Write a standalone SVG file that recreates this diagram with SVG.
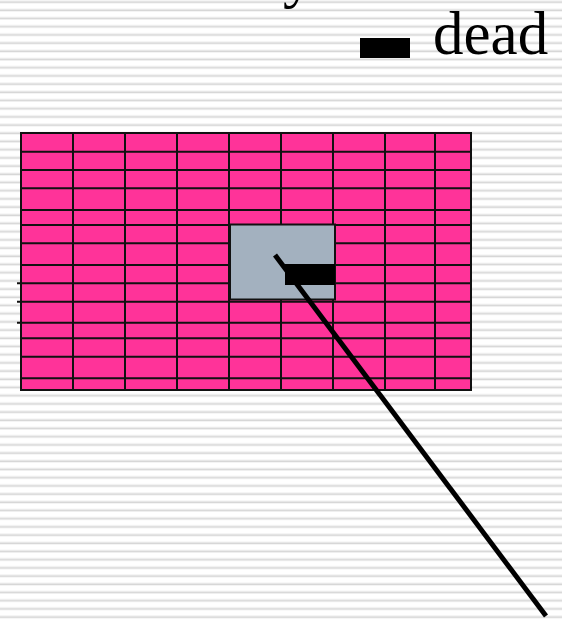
<svg xmlns="http://www.w3.org/2000/svg" width="562" height="620" viewBox="0 0 562 620">
  <defs>
    <pattern id="stripes" x="0" y="0" width="16" height="8.2" patternUnits="userSpaceOnUse">
      <rect x="0" y="0" width="16" height="8.2" fill="#ffffff"/>
      <rect x="0" y="0.6" width="16" height="1" fill="#e6e6e6"/>
      <rect x="0" y="1.6" width="16" height="1.4" fill="#d6d6d6"/>
    </pattern>
  </defs>
  <style>
    .grid line { stroke: #111111; stroke-width: 2; }
    .cell { fill: #ff3399; }
    .label { font-family: "Liberation Serif", "Times New Roman", serif; font-size: 61px; fill: #000000; }
    .conn { stroke: #000000; stroke-width: 5; fill: none; }
  </style>
  <rect x="0" y="0" width="562" height="620" fill="url(#stripes)"/>

  <g id="title">
    <text class="label" x="283" y="-4">y</text>
  </g>

  <g id="legend">
    <rect x="360" y="38" width="50" height="20" fill="#000000"/>
    <text class="label" x="433" y="54">dead</text>
  </g>

  <g id="grid" class="grid">
    <rect class="cell" x="21" y="133" width="450" height="257"/>
    <line x1="21" y1="133" x2="21" y2="390"/>
    <line x1="73" y1="133" x2="73" y2="390"/>
    <line x1="125" y1="133" x2="125" y2="390"/>
    <line x1="177" y1="133" x2="177" y2="390"/>
    <line x1="229" y1="133" x2="229" y2="390"/>
    <line x1="281" y1="133" x2="281" y2="390"/>
    <line x1="333" y1="133" x2="333" y2="390"/>
    <line x1="385" y1="133" x2="385" y2="390"/>
    <line x1="435" y1="133" x2="435" y2="390"/>
    <line x1="471" y1="133" x2="471" y2="390"/>
    <line x1="20" y1="133" x2="472" y2="133"/>
    <line x1="21" y1="151.7" x2="471" y2="151.7"/>
    <line x1="21" y1="170" x2="471" y2="170"/>
    <line x1="21" y1="188.3" x2="471" y2="188.3"/>
    <line x1="21" y1="210" x2="471" y2="210"/>
    <line x1="21" y1="225" x2="471" y2="225"/>
    <line x1="21" y1="243.3" x2="471" y2="243.3"/>
    <line x1="21" y1="265" x2="471" y2="265"/>
    <line x1="17" y1="283.3" x2="471" y2="283.3"/>
    <line x1="17" y1="301.7" x2="471" y2="301.7"/>
    <line x1="17" y1="322.7" x2="471" y2="322.7"/>
    <line x1="21" y1="338.3" x2="471" y2="338.3"/>
    <line x1="21" y1="356.7" x2="471" y2="356.7"/>
    <line x1="21" y1="378.3" x2="471" y2="378.3"/>
    <line x1="20" y1="390" x2="472" y2="390"/>
  </g>

  <g id="selection">
    <rect x="230" y="224.5" width="105" height="75" fill="#a3b1bf" stroke="#111111" stroke-width="2"/>
  </g>

  <g id="dead-cell">
    <rect x="285" y="264" width="50" height="21" fill="#000000"/>
  </g>

  <g id="connectors">
    <line class="conn" x1="275" y1="255" x2="546" y2="616"/>
  </g>
</svg>
